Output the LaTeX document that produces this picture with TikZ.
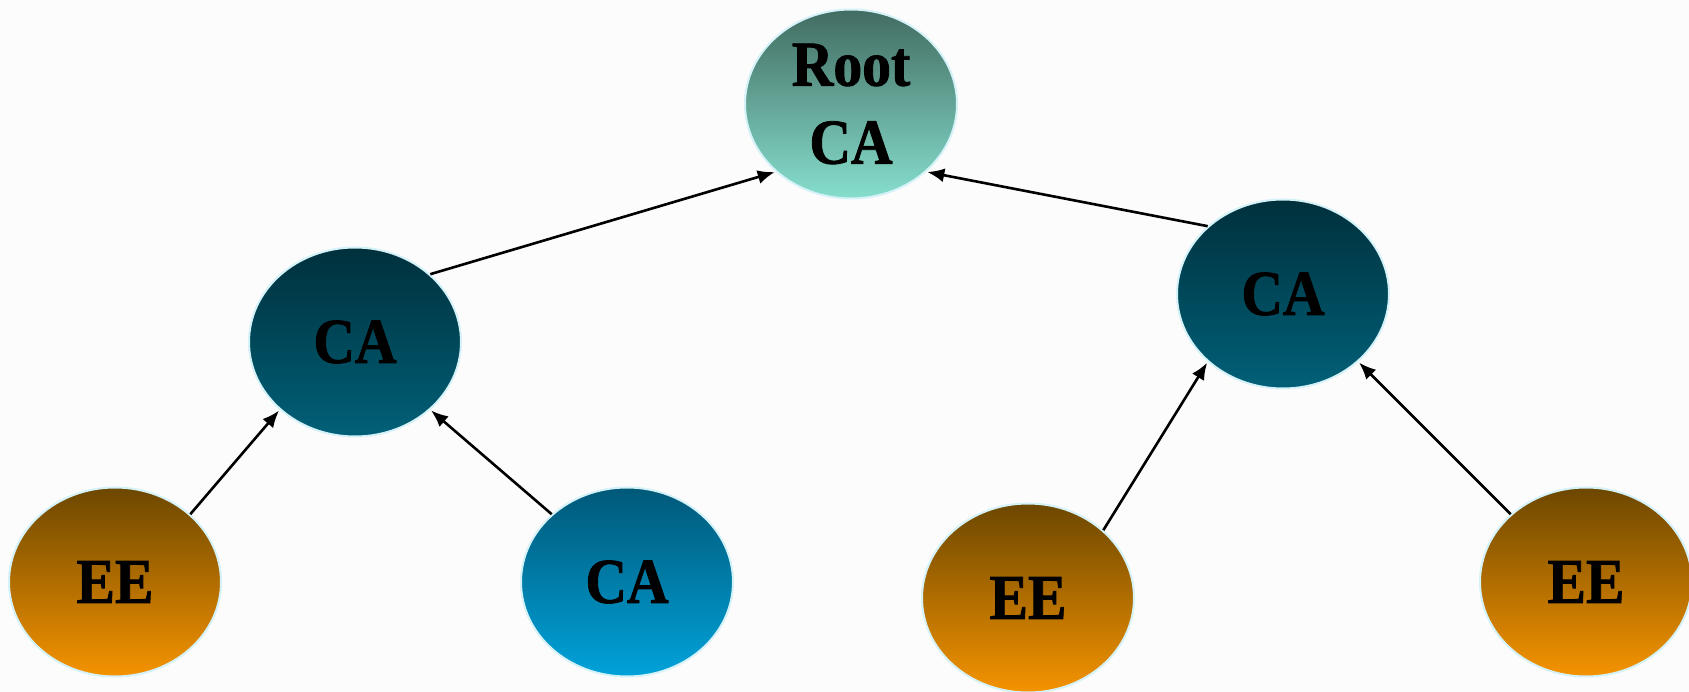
\documentclass[tikz,border=0pt]{standalone}
\usepackage{fontspec}
\setmainfont{Liberation Serif}
\newfontfamily\labelfont[FakeStretch=0.9,FakeBold=1.3]{Liberation Serif}
\usetikzlibrary{shapes.geometric,arrows.meta}

\definecolor{rootTop}{HTML}{426C61}
\definecolor{rootBot}{HTML}{86DECD}
\definecolor{caTop}{HTML}{00303C}
\definecolor{caBot}{HTML}{006078}
\definecolor{cbTop}{HTML}{005878}
\definecolor{cbBot}{HTML}{00A2DA}
\definecolor{eeTop}{HTML}{6C4700}
\definecolor{eeBot}{HTML}{F59300}
\definecolor{rim}{HTML}{D4F2F8}

\tikzset{
  certnode/.style={ellipse, minimum width=212pt, minimum height=189pt, inner sep=0pt,
    draw=rim, line width=2pt, font=\labelfont\fontsize{64}{78}\selectfont\bfseries, text=black},
  rootnode/.style={certnode, top color=rootTop, bottom color=rootBot, align=center},
  canode/.style={certnode, top color=caTop, bottom color=caBot},
  cbnode/.style={certnode, top color=cbTop, bottom color=cbBot},
  eenode/.style={certnode, top color=eeTop, bottom color=eeBot},
  signs/.style={-{Latex[length=17pt,width=14pt]}, line width=2.6pt, black, shorten >=1pt},
}

\begin{document}
\begin{tikzpicture}[x=1pt,y=-1pt]
  \fill[white!99!black] (0,0) rectangle (1689,692);
  \useasboundingbox (0,0) rectangle (1689,692);

  \node[rootnode] (root) at (851,104) {Root\\CA};
  \node[canode] (caL) at (355,342) {CA};
  \node[canode] (caR) at (1283,294) {CA};
  \node[eenode] (eeL) at (115,582) {EE};
  \node[cbnode] (caB) at (627,582) {CA};
  \node[eenode] (eeM) at (1028,598) {EE};
  \node[eenode] (eeR) at (1586,582) {EE};

  \draw[signs] (caL.42) -- (root.222);
  \draw[signs] (caR.138) -- (root.318);
  \draw[signs] (eeL.42) -- (caL.222);
  \draw[signs] (caB.138) -- (caL.318);
  \draw[signs] (eeM.42) -- (caR.222);
  \draw[signs] (eeR.138) -- (caR.318);
\end{tikzpicture}
\end{document}
